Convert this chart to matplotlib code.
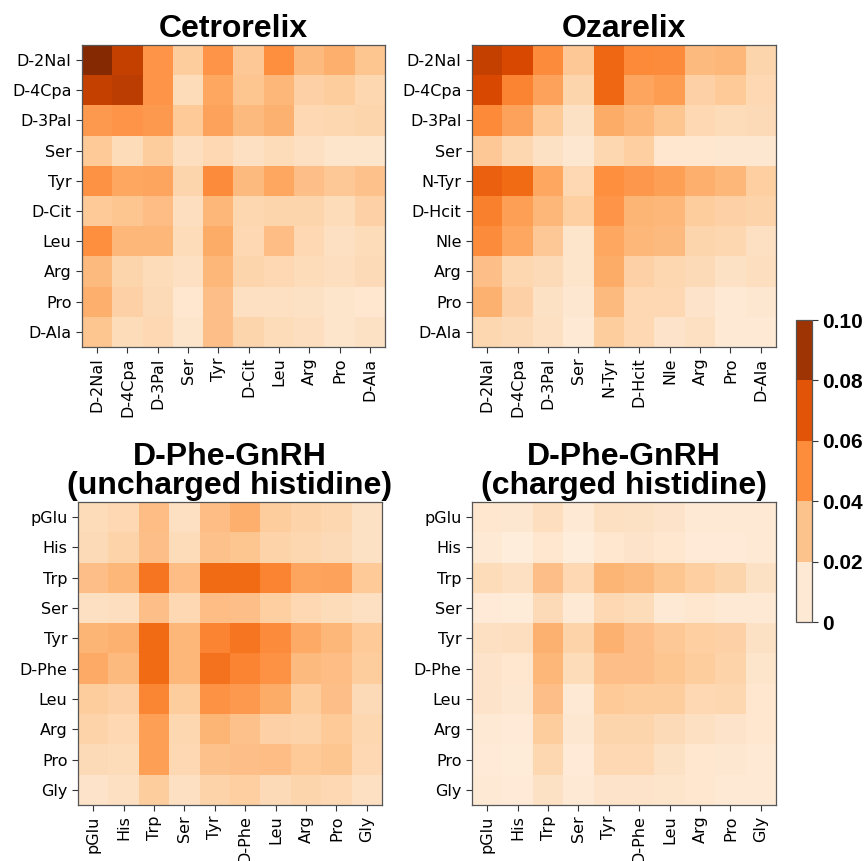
import matplotlib
matplotlib.use("Agg")
import matplotlib.pyplot as plt
import numpy as np
from matplotlib.colors import ListedColormap, BoundaryNorm
from matplotlib.colorbar import ColorbarBase

# residue labels
cet_labels = ["D-2Nal", "D-4Cpa", "D-3Pal", "Ser", "Tyr", "D-Cit", "Leu", "Arg", "Pro", "D-Ala"]
oza_labels = ["D-2Nal", "D-4Cpa", "D-3Pal", "Ser", "N-Tyr", "D-Hcit", "Nle", "Arg", "Pro", "D-Ala"]
gnrh_labels = ["pGlu", "His", "Trp", "Ser", "Tyr", "D-Phe", "Leu", "Arg", "Pro", "Gly"]

# contact maps
cetrorelix = [
    [0.098, 0.080, 0.047, 0.026, 0.047, 0.028, 0.049, 0.033, 0.037, 0.029],
    [0.080, 0.082, 0.047, 0.018, 0.040, 0.029, 0.034, 0.024, 0.026, 0.021],
    [0.045, 0.047, 0.045, 0.027, 0.042, 0.033, 0.036, 0.020, 0.021, 0.022],
    [0.027, 0.018, 0.026, 0.017, 0.020, 0.016, 0.018, 0.016, 0.013, 0.013],
    [0.048, 0.040, 0.041, 0.022, 0.050, 0.033, 0.040, 0.031, 0.028, 0.030],
    [0.027, 0.029, 0.032, 0.017, 0.034, 0.021, 0.022, 0.022, 0.018, 0.024],
    [0.049, 0.034, 0.034, 0.018, 0.038, 0.020, 0.032, 0.020, 0.016, 0.018],
    [0.033, 0.022, 0.018, 0.016, 0.034, 0.022, 0.020, 0.018, 0.017, 0.019],
    [0.037, 0.024, 0.019, 0.012, 0.031, 0.016, 0.016, 0.015, 0.013, 0.012],
    [0.029, 0.018, 0.020, 0.013, 0.031, 0.022, 0.018, 0.017, 0.013, 0.015],
]
ozarelix = [
    [0.080, 0.075, 0.050, 0.028, 0.063, 0.051, 0.050, 0.033, 0.034, 0.022],
    [0.075, 0.053, 0.042, 0.022, 0.063, 0.041, 0.044, 0.024, 0.027, 0.020],
    [0.051, 0.042, 0.027, 0.015, 0.038, 0.034, 0.029, 0.020, 0.018, 0.019],
    [0.028, 0.021, 0.015, 0.011, 0.021, 0.025, 0.012, 0.012, 0.011, 0.011],
    [0.066, 0.062, 0.040, 0.020, 0.049, 0.046, 0.043, 0.037, 0.034, 0.025],
    [0.054, 0.043, 0.034, 0.025, 0.047, 0.035, 0.034, 0.026, 0.024, 0.023],
    [0.050, 0.040, 0.028, 0.013, 0.040, 0.034, 0.033, 0.022, 0.021, 0.016],
    [0.031, 0.021, 0.019, 0.013, 0.038, 0.024, 0.021, 0.019, 0.015, 0.017],
    [0.036, 0.024, 0.015, 0.011, 0.033, 0.020, 0.020, 0.014, 0.010, 0.011],
    [0.021, 0.019, 0.016, 0.010, 0.026, 0.020, 0.014, 0.016, 0.010, 0.010],
]
gnrh_uncharged = [
    [0.018, 0.020, 0.032, 0.016, 0.032, 0.037, 0.026, 0.023, 0.021, 0.015],
    [0.019, 0.023, 0.031, 0.018, 0.030, 0.029, 0.023, 0.021, 0.019, 0.015],
    [0.031, 0.034, 0.058, 0.032, 0.062, 0.062, 0.053, 0.041, 0.042, 0.027],
    [0.016, 0.017, 0.031, 0.020, 0.032, 0.031, 0.025, 0.020, 0.018, 0.016],
    [0.035, 0.036, 0.062, 0.034, 0.053, 0.058, 0.050, 0.039, 0.034, 0.027],
    [0.039, 0.033, 0.062, 0.034, 0.059, 0.053, 0.048, 0.033, 0.032, 0.026],
    [0.026, 0.024, 0.052, 0.026, 0.048, 0.045, 0.038, 0.026, 0.031, 0.019],
    [0.023, 0.020, 0.043, 0.021, 0.035, 0.030, 0.024, 0.023, 0.027, 0.021],
    [0.019, 0.018, 0.043, 0.020, 0.030, 0.031, 0.032, 0.027, 0.029, 0.020],
    [0.014, 0.016, 0.026, 0.016, 0.023, 0.025, 0.019, 0.022, 0.020, 0.016],
]
gnrh_charged = [
    [0.012, 0.011, 0.017, 0.010, 0.016, 0.015, 0.014, 0.010, 0.010, 0.010],
    [0.010, 0.007, 0.012, 0.007, 0.012, 0.014, 0.012, 0.009, 0.009, 0.010],
    [0.018, 0.016, 0.031, 0.020, 0.035, 0.033, 0.029, 0.025, 0.022, 0.015],
    [0.009, 0.008, 0.019, 0.010, 0.020, 0.018, 0.010, 0.012, 0.010, 0.010],
    [0.016, 0.017, 0.036, 0.023, 0.036, 0.031, 0.028, 0.025, 0.024, 0.015],
    [0.014, 0.012, 0.034, 0.018, 0.031, 0.031, 0.029, 0.026, 0.023, 0.013],
    [0.014, 0.011, 0.031, 0.010, 0.027, 0.026, 0.026, 0.020, 0.021, 0.012],
    [0.010, 0.009, 0.026, 0.011, 0.022, 0.022, 0.019, 0.016, 0.014, 0.012],
    [0.009, 0.008, 0.021, 0.009, 0.020, 0.020, 0.015, 0.012, 0.011, 0.010],
    [0.010, 0.009, 0.015, 0.010, 0.014, 0.014, 0.013, 0.012, 0.010, 0.010],
]

cbar_bounds = [0, 0.02, 0.04, 0.06, 0.08, 0.10]
cbar_ticklabels = ["0", "0.02", "0.04", "0.06", "0.08", "0.10"]

W, H = 867, 861
fig = plt.figure(figsize=(W / 100, H / 100), dpi=100)

def px(l, t, r, b):
    return [l / W, 1 - b / H, (r - l) / W, (b - t) / H]

title_font = dict(family="Liberation Sans", weight="bold", fontsize=23, linespacing=0.95)

panels = [
    (px(82, 45, 385, 347), cetrorelix, cet_labels, "Cetrorelix"),
    (px(472, 45, 776, 347), ozarelix, oza_labels, "Ozarelix"),
    (px(78, 502, 382, 805), gnrh_uncharged, gnrh_labels, "D-Phe-GnRH\n(uncharged histidine)"),
    (px(472, 502, 776, 805), gnrh_charged, gnrh_labels, "D-Phe-GnRH\n(charged histidine)"),
]

for rect, data, labels, title in panels:
    ax = fig.add_axes(rect)
    ax.imshow(np.array(data), cmap="Oranges", vmin=0, vmax=0.1, aspect="auto",
              interpolation="nearest")
    ax.set_xticks(range(len(labels)))
    ax.set_yticks(range(len(labels)))
    ax.set_xticklabels(labels, rotation=90, fontsize=11.5)
    ax.set_yticklabels(labels, fontsize=11.5)
    ax.tick_params(length=4, width=0.8, color="#333333")
    for s in ax.spines.values():
        s.set_color("#555555")
        s.set_linewidth(0.9)
    ax.set_title(title, pad=6, **title_font)

# discrete colorbar
cols = [plt.get_cmap("Oranges")(v) for v in [0.1, 0.3, 0.5, 0.7, 0.9]]
cmap5 = ListedColormap(cols)
norm5 = BoundaryNorm(cbar_bounds, cmap5.N)
cax = fig.add_axes(px(796, 320, 812, 622))
cb = ColorbarBase(cax, cmap=cmap5, norm=norm5, ticks=cbar_bounds)
cb.set_ticklabels(cbar_ticklabels)
cb.outline.set_edgecolor("#555555")
cb.outline.set_linewidth(0.9)
cax.tick_params(length=4, width=0.8, color="#333333")
for t in cax.get_yticklabels():
    t.set_fontfamily("Liberation Sans")
    t.set_fontweight("bold")
    t.set_fontsize(15)

fig.savefig("out.png", dpi=100)
